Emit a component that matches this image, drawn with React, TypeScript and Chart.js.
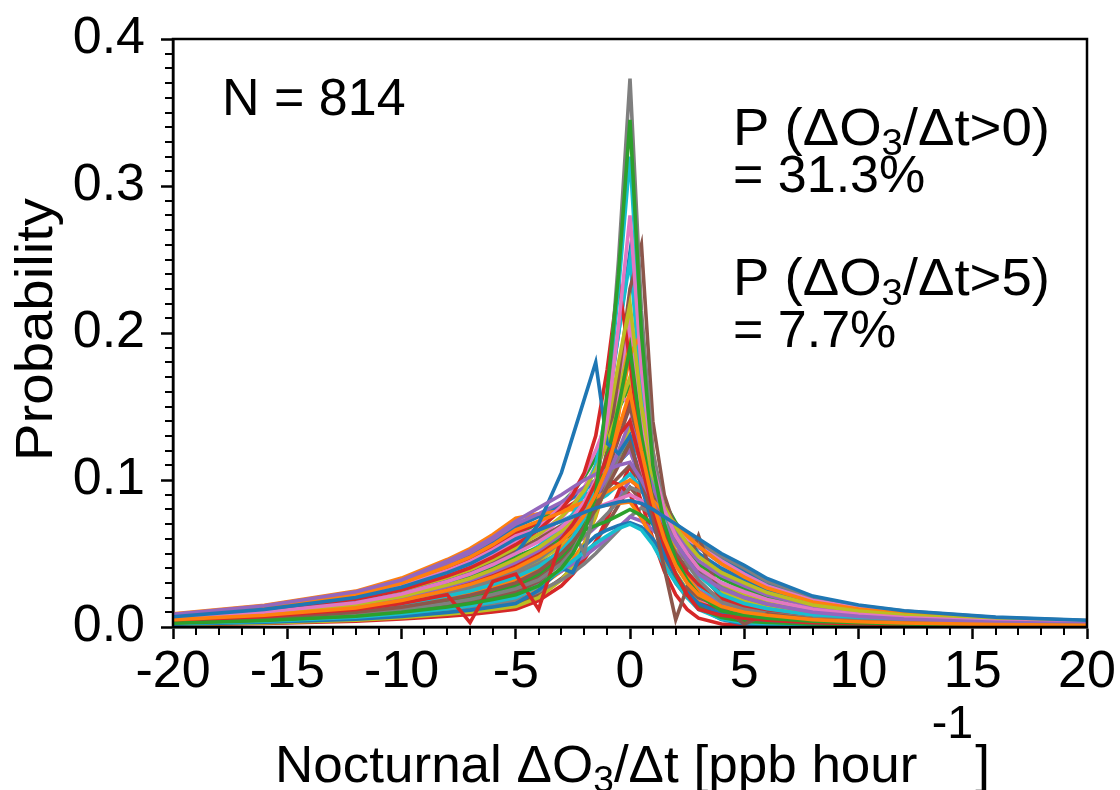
import React, { useEffect, useRef } from 'react';
import { Chart, registerables } from 'chart.js';

Chart.register(...registerables);

// x positions of the probability bins (ppb/hour)
const X_BINS = [-20, -16, -12, -10, -8, -7, -6, -5, -4, -3, -2.5, -2, -1.5, -1, -0.5, 0, 0.5, 1, 1.5, 2, 2.5, 3, 4, 5, 6, 8, 10, 12, 16, 20];

// representative site curves (probability per bin)
const s00 = [0.007, 0.012, 0.020, 0.027, 0.037, 0.043, 0.051, 0.060, 0.066, 0.072, 0.075, 0.078, 0.081, 0.083, 0.085, 0.086, 0.084, 0.080, 0.075, 0.070, 0.065, 0.060, 0.050, 0.042, 0.033, 0.021, 0.015, 0.011, 0.0067, 0.0046];
const s01 = [0.005, 0.008, 0.013, 0.018, 0.025, 0.029, 0.034, 0.040, 0.048, 0.058, 0.066, 0.076, 0.090, 0.108, 0.135, 0.160, 0.120, 0.085, 0.060, 0.042, 0.030, 0.022, 0.014, 0.010, 0.008, 0.005, 0.0036, 0.0027, 0.0016, 0.0011];
const s02 = [0.0026, 0.0044, 0.0073, 0.010, 0.0136, 0.016, 0.0187, 0.022, 0.028, 0.040, 0.050, 0.065, 0.090, 0.160, 0.240, 0.345, 0.200, 0.110, 0.070, 0.046, 0.032, 0.022, 0.011, 0.008, 0.006, 0.004, 0.003, 0.002, 0.0013, 0.0009];
const s03 = [0.0043, 0.0072, 0.012, 0.016, 0.022, 0.003, 0.031, 0.036, 0.012, 0.060, 0.070, 0.082, 0.098, 0.115, 0.130, 0.140, 0.110, 0.080, 0.055, 0.036, 0.022, 0.012, 0.008, 0.006, 0.0047, 0.003, 0.0022, 0.0016, 0.001, 0.0007];
const s04 = [0.0086, 0.0144, 0.024, 0.032, 0.045, 0.052, 0.061, 0.072, 0.081, 0.090, 0.095, 0.100, 0.104, 0.107, 0.110, 0.112, 0.100, 0.085, 0.070, 0.057, 0.046, 0.036, 0.026, 0.020, 0.0156, 0.010, 0.0072, 0.0054, 0.0032, 0.0022];
const s05 = [0.0036, 0.006, 0.010, 0.0135, 0.0186, 0.0216, 0.0255, 0.030, 0.038, 0.050, 0.058, 0.068, 0.080, 0.095, 0.110, 0.125, 0.100, 0.075, 0.040, 0.005, 0.027, 0.020, 0.014, 0.002, 0.009, 0.005, 0.0035, 0.0025, 0.0015, 0.001];
const s06 = [0.006, 0.010, 0.0165, 0.0225, 0.031, 0.036, 0.0425, 0.050, 0.058, 0.068, 0.075, 0.085, 0.100, 0.140, 0.205, 0.280, 0.175, 0.110, 0.080, 0.062, 0.050, 0.040, 0.030, 0.024, 0.0187, 0.012, 0.0086, 0.0065, 0.0038, 0.0026];
const s07 = [0.0031, 0.0052, 0.0086, 0.0117, 0.0161, 0.0187, 0.0221, 0.026, 0.032, 0.043, 0.052, 0.066, 0.090, 0.150, 0.250, 0.373, 0.215, 0.120, 0.080, 0.058, 0.043, 0.032, 0.017, 0.012, 0.0094, 0.006, 0.0043, 0.0032, 0.0019, 0.0013];
const s08 = [0.0055, 0.0092, 0.0152, 0.0207, 0.0285, 0.033, 0.039, 0.046, 0.054, 0.065, 0.073, 0.083, 0.100, 0.135, 0.180, 0.220, 0.150, 0.105, 0.082, 0.068, 0.057, 0.048, 0.037, 0.030, 0.0234, 0.015, 0.0108, 0.0081, 0.0048, 0.0033];
const s09 = [0.0041, 0.0068, 0.0112, 0.0153, 0.0211, 0.0245, 0.0289, 0.034, 0.041, 0.052, 0.061, 0.074, 0.098, 0.150, 0.230, 0.320, 0.190, 0.110, 0.078, 0.058, 0.045, 0.035, 0.022, 0.016, 0.0125, 0.008, 0.0058, 0.0043, 0.0026, 0.0018];
const s10 = [0.006, 0.010, 0.0165, 0.0225, 0.031, 0.036, 0.0425, 0.050, 0.070, 0.105, 0.130, 0.155, 0.180, 0.125, 0.118, 0.130, 0.095, 0.070, 0.050, 0.036, 0.024, 0.016, 0.009, 0.006, 0.0047, 0.003, 0.0022, 0.0016, 0.001, 0.0007];
const s11 = [0.0079, 0.0132, 0.0218, 0.0297, 0.041, 0.0475, 0.056, 0.066, 0.072, 0.078, 0.082, 0.085, 0.088, 0.092, 0.096, 0.100, 0.094, 0.086, 0.078, 0.070, 0.062, 0.055, 0.043, 0.034, 0.0265, 0.017, 0.0122, 0.0092, 0.0054, 0.0037];
const s12 = [0.0034, 0.0056, 0.0092, 0.0126, 0.0174, 0.0202, 0.0238, 0.028, 0.036, 0.048, 0.057, 0.070, 0.088, 0.115, 0.150, 0.190, 0.130, 0.085, 0.055, 0.035, 0.022, 0.013, 0.0065, 0.004, 0.0031, 0.002, 0.0014, 0.0011, 0.0006, 0.0004];
const s13 = [0.0067, 0.0112, 0.0185, 0.0252, 0.0347, 0.0403, 0.0476, 0.056, 0.066, 0.080, 0.090, 0.105, 0.130, 0.175, 0.235, 0.180, 0.120, 0.085, 0.062, 0.047, 0.037, 0.029, 0.019, 0.014, 0.011, 0.007, 0.005, 0.0038, 0.0022, 0.0015];
const s14 = [0.0053, 0.0088, 0.0145, 0.0198, 0.0273, 0.0317, 0.0374, 0.044, 0.052, 0.063, 0.070, 0.078, 0.088, 0.102, 0.120, 0.140, 0.118, 0.095, 0.078, 0.065, 0.054, 0.045, 0.035, 0.028, 0.0218, 0.014, 0.010, 0.0076, 0.0045, 0.0031];
const s15 = [0.0029, 0.0048, 0.0079, 0.0108, 0.0149, 0.0173, 0.0204, 0.024, 0.031, 0.044, 0.054, 0.066, 0.083, 0.105, 0.128, 0.150, 0.120, 0.090, 0.065, 0.050, 0.040, 0.062, 0.018, 0.012, 0.0094, 0.006, 0.0043, 0.0032, 0.0019, 0.0013];
const s16 = [0.0074, 0.0124, 0.0205, 0.0279, 0.0384, 0.0446, 0.0527, 0.062, 0.067, 0.072, 0.075, 0.078, 0.081, 0.084, 0.087, 0.090, 0.086, 0.080, 0.073, 0.066, 0.060, 0.055, 0.045, 0.036, 0.028, 0.018, 0.013, 0.0097, 0.0058, 0.004];
const s17 = [0.0046, 0.0076, 0.0125, 0.0171, 0.0236, 0.0274, 0.0323, 0.038, 0.046, 0.058, 0.066, 0.050, 0.085, 0.100, 0.116, 0.130, 0.112, 0.092, 0.075, 0.062, 0.050, 0.040, 0.027, 0.020, 0.0156, 0.010, 0.0072, 0.0054, 0.0032, 0.0022];
const s18 = [0.0065, 0.0108, 0.0178, 0.0243, 0.0335, 0.0389, 0.0459, 0.054, 0.063, 0.075, 0.083, 0.093, 0.107, 0.125, 0.148, 0.170, 0.130, 0.095, 0.072, 0.056, 0.045, 0.035, 0.024, 0.018, 0.014, 0.009, 0.0065, 0.0049, 0.0029, 0.002];
const s19 = [0.0024, 0.004, 0.0066, 0.009, 0.0124, 0.0144, 0.017, 0.020, 0.028, 0.039, 0.045, 0.051, 0.057, 0.062, 0.067, 0.070, 0.066, 0.056, 0.042, 0.030, 0.020, 0.012, 0.0055, 0.003, 0.0023, 0.0015, 0.0011, 0.0008, 0.0005, 0.0003];
const s20 = [0.0019, 0.0032, 0.0053, 0.0072, 0.0099, 0.0115, 0.0136, 0.016, 0.025, 0.040, 0.037, 0.055, 0.062, 0.066, 0.069, 0.071, 0.068, 0.060, 0.048, 0.034, 0.022, 0.013, 0.005, 0.002, 0.0016, 0.001, 0.0007, 0.0005, 0.0003, 0.0002];
const s21 = [0.0038, 0.0064, 0.0106, 0.0144, 0.0198, 0.023, 0.0272, 0.032, 0.040, 0.053, 0.062, 0.073, 0.088, 0.110, 0.145, 0.185, 0.200, 0.120, 0.075, 0.050, 0.034, 0.024, 0.014, 0.010, 0.0078, 0.005, 0.0036, 0.0027, 0.0016, 0.0011];
const s22 = [0.0058, 0.0096, 0.0158, 0.0216, 0.0298, 0.0346, 0.0408, 0.048, 0.054, 0.060, 0.063, 0.066, 0.069, 0.072, 0.076, 0.080, 0.076, 0.070, 0.063, 0.056, 0.050, 0.043, 0.033, 0.026, 0.0203, 0.013, 0.0094, 0.007, 0.0042, 0.0029];
const s23 = [0.005, 0.0084, 0.0139, 0.0189, 0.026, 0.0302, 0.0357, 0.042, 0.050, 0.062, 0.070, 0.080, 0.095, 0.113, 0.135, 0.155, 0.122, 0.090, 0.060, 0.030, 0.020, 0.016, 0.012, 0.004, 0.006, 0.002, 0.0014, 0.001, 0.0006, 0.0004];
const s24 = [0.0084, 0.014, 0.0231, 0.0315, 0.0434, 0.0504, 0.0595, 0.070, 0.077, 0.085, 0.090, 0.095, 0.100, 0.106, 0.113, 0.120, 0.098, 0.076, 0.058, 0.045, 0.034, 0.025, 0.015, 0.010, 0.0078, 0.005, 0.0036, 0.0027, 0.0016, 0.0011];
const s25 = [0.0032, 0.0054, 0.0089, 0.0122, 0.0167, 0.0194, 0.023, 0.027, 0.034, 0.046, 0.055, 0.068, 0.088, 0.120, 0.170, 0.230, 0.260, 0.140, 0.090, 0.066, 0.050, 0.038, 0.020, 0.014, 0.011, 0.007, 0.005, 0.0038, 0.0022, 0.0015];
const s26 = [0.007, 0.0116, 0.0191, 0.0261, 0.036, 0.0418, 0.0493, 0.058, 0.068, 0.082, 0.092, 0.104, 0.120, 0.140, 0.170, 0.205, 0.140, 0.090, 0.060, 0.042, 0.030, 0.020, 0.011, 0.008, 0.0062, 0.004, 0.0029, 0.0022, 0.0013, 0.0009];
const s27 = [0.0043, 0.0072, 0.0119, 0.0162, 0.0223, 0.0259, 0.0306, 0.036, 0.043, 0.051, 0.056, 0.062, 0.069, 0.077, 0.086, 0.095, 0.092, 0.085, 0.077, 0.070, 0.064, 0.058, 0.048, 0.040, 0.031, 0.020, 0.0144, 0.0108, 0.0064, 0.0044];
const s28 = [0.0046, 0.0076, 0.0125, 0.0171, 0.0236, 0.0274, 0.0323, 0.038, 0.045, 0.055, 0.062, 0.070, 0.080, 0.095, 0.115, 0.135, 0.150, 0.112, 0.085, 0.066, 0.053, 0.042, 0.029, 0.022, 0.0172, 0.011, 0.0079, 0.0059, 0.0035, 0.0024];
const s29 = [0.0055, 0.0092, 0.0152, 0.0207, 0.0285, 0.0331, 0.0391, 0.046, 0.055, 0.068, 0.077, 0.090, 0.110, 0.150, 0.200, 0.250, 0.160, 0.100, 0.070, 0.050, 0.038, 0.028, 0.017, 0.012, 0.0094, 0.006, 0.0043, 0.0032, 0.0019, 0.0013];
const s30 = [0.0048, 0.008, 0.0132, 0.018, 0.0248, 0.0288, 0.034, 0.040, 0.048, 0.060, 0.068, 0.080, 0.100, 0.145, 0.200, 0.255, 0.170, 0.115, 0.086, 0.068, 0.058, 0.050, 0.040, 0.032, 0.025, 0.016, 0.0115, 0.0086, 0.0051, 0.0035];
const s31 = [0.0089, 0.0148, 0.0244, 0.0333, 0.0459, 0.0533, 0.0629, 0.074, 0.077, 0.079, 0.080, 0.081, 0.082, 0.083, 0.084, 0.085, 0.074, 0.060, 0.046, 0.034, 0.025, 0.018, 0.0095, 0.006, 0.0047, 0.003, 0.0022, 0.0016, 0.001, 0.0007];
const s32 = [0.0036, 0.006, 0.0099, 0.0135, 0.0186, 0.0216, 0.0255, 0.030, 0.038, 0.050, 0.058, 0.068, 0.080, 0.095, 0.112, 0.130, 0.118, 0.100, 0.085, 0.071, 0.060, 0.050, 0.034, 0.026, 0.0203, 0.013, 0.0094, 0.007, 0.0042, 0.0029];
const s33 = [0.0077, 0.0128, 0.0211, 0.0288, 0.0397, 0.0461, 0.0544, 0.064, 0.071, 0.079, 0.084, 0.089, 0.094, 0.100, 0.097, 0.090, 0.075, 0.058, 0.043, 0.031, 0.022, 0.015, 0.008, 0.005, 0.0039, 0.0025, 0.0018, 0.0014, 0.0008, 0.0006];
const s34 = [0.0029, 0.0048, 0.0079, 0.0108, 0.0149, 0.0173, 0.0204, 0.024, 0.030, 0.038, 0.043, 0.048, 0.054, 0.060, 0.068, 0.075, 0.072, 0.066, 0.059, 0.052, 0.045, 0.038, 0.027, 0.020, 0.0156, 0.010, 0.0072, 0.0054, 0.0032, 0.0022];
const s35 = [0.0062, 0.0104, 0.0172, 0.0234, 0.0322, 0.0374, 0.0442, 0.052, 0.060, 0.069, 0.074, 0.080, 0.087, 0.094, 0.102, 0.110, 0.098, 0.084, 0.070, 0.057, 0.046, 0.036, 0.022, 0.016, 0.0125, 0.008, 0.0058, 0.0043, 0.0026, 0.0018];
const s36 = [0.006, 0.010, 0.0165, 0.0225, 0.031, 0.036, 0.0425, 0.050, 0.060, 0.074, 0.083, 0.095, 0.110, 0.135, 0.160, 0.150, 0.105, 0.072, 0.050, 0.035, 0.024, 0.016, 0.008, 0.005, 0.0039, 0.0025, 0.0018, 0.0014, 0.0008, 0.0006];
const s37 = [0.0022, 0.0036, 0.0059, 0.0081, 0.0112, 0.013, 0.0153, 0.018, 0.024, 0.032, 0.037, 0.043, 0.050, 0.058, 0.066, 0.075, 0.081, 0.077, 0.072, 0.066, 0.059, 0.050, 0.038, 0.030, 0.0234, 0.015, 0.0108, 0.0081, 0.0048, 0.0033];
const s38 = [0.0017, 0.0028, 0.0046, 0.0063, 0.0087, 0.0101, 0.0119, 0.014, 0.020, 0.032, 0.042, 0.056, 0.076, 0.110, 0.160, 0.215, 0.140, 0.085, 0.055, 0.037, 0.025, 0.017, 0.009, 0.006, 0.0047, 0.003, 0.0022, 0.0016, 0.001, 0.0007];
const s39 = [0.0072, 0.012, 0.0198, 0.027, 0.0372, 0.0432, 0.051, 0.060, 0.066, 0.072, 0.076, 0.080, 0.085, 0.090, 0.097, 0.104, 0.094, 0.082, 0.070, 0.059, 0.049, 0.040, 0.030, 0.024, 0.0187, 0.012, 0.0086, 0.0065, 0.0038, 0.0026];
const s40 = [0.0082, 0.0136, 0.0224, 0.0306, 0.0422, 0.049, 0.0578, 0.068, 0.075, 0.083, 0.088, 0.093, 0.099, 0.105, 0.112, 0.120, 0.106, 0.092, 0.080, 0.070, 0.062, 0.056, 0.046, 0.038, 0.0296, 0.019, 0.0137, 0.0103, 0.0061, 0.0042];
const s41 = [0.0024, 0.004, 0.0066, 0.009, 0.0124, 0.0144, 0.017, 0.020, 0.027, 0.038, 0.046, 0.057, 0.075, 0.100, 0.145, 0.200, 0.160, 0.110, 0.080, 0.060, 0.047, 0.037, 0.024, 0.018, 0.014, 0.009, 0.0065, 0.0049, 0.0029, 0.002];
const s42 = [0.0074, 0.0124, 0.0205, 0.0279, 0.0384, 0.0446, 0.0527, 0.062, 0.071, 0.084, 0.092, 0.102, 0.115, 0.130, 0.148, 0.165, 0.128, 0.096, 0.074, 0.058, 0.046, 0.036, 0.026, 0.020, 0.0156, 0.010, 0.0072, 0.0054, 0.0032, 0.0022];
const s43 = [0.0014, 0.0024, 0.004, 0.0054, 0.0074, 0.0086, 0.0102, 0.012, 0.018, 0.028, 0.036, 0.046, 0.058, 0.074, 0.092, 0.110, 0.085, 0.060, 0.038, 0.022, 0.012, 0.006, 0.002, 0.001, 0.0008, 0.0005, 0.0004, 0.0003, 0.0002, 0.0001];
const s44 = [0.0041, 0.0068, 0.0112, 0.0153, 0.0211, 0.0245, 0.0289, 0.034, 0.041, 0.050, 0.055, 0.061, 0.068, 0.076, 0.088, 0.100, 0.094, 0.086, 0.078, 0.070, 0.062, 0.054, 0.043, 0.034, 0.0265, 0.017, 0.0122, 0.0092, 0.0054, 0.0037];
const s45 = [0.0019, 0.0032, 0.0053, 0.0072, 0.0099, 0.0115, 0.0136, 0.016, 0.022, 0.033, 0.040, 0.048, 0.058, 0.070, 0.083, 0.095, 0.086, 0.072, 0.056, 0.042, 0.031, 0.022, 0.012, 0.008, 0.0062, 0.004, 0.0029, 0.0022, 0.0013, 0.0009];

const SERIES = [s00, s01, s02, s03, s04, s05, s06, s07, s08, s09, s10, s11, s12, s13, s14, s15, s16, s17, s18, s19, s20, s21, s22, s23, s24, s25, s26, s27, s28, s29, s30, s31, s32, s33, s34, s35, s36, s37, s38, s39, s40, s41, s42, s43, s44, s45];

const TAB10 = ['#1f77b4', '#ff7f0e', '#2ca02c', '#d62728', '#9467bd', '#8c564b', '#e377c2', '#7f7f7f', '#bcbd22', '#17becf'];

const X_TICKS = [-20, -15, -10, -5, 0, 5, 10, 15, 20];
const Y_TICKS = [0, 0.1, 0.2, 0.3, 0.4];

const N_TEXT = 'N = 814';
const P0_VALUE = '= 31.3%';
const P5_VALUE = '= 7.7%';

const FONT = "'Liberation Sans', Arial, Helvetica, sans-serif";
const FS = 52;

type Seg = { t: string; k?: 'sub' | 'sup'; pre?: number };

function segSize(s: Seg, size: number) {
  if (s.k === 'sub') return size * 0.7;
  if (s.k === 'sup') return size * 0.88;
  return size;
}

function segWidth(ctx: CanvasRenderingContext2D, segs: Seg[], size: number) {
  let w = 0;
  for (const s of segs) {
    ctx.font = `${segSize(s, size)}px ${FONT}`;
    w += (s.pre || 0) + ctx.measureText(s.t).width;
  }
  return w;
}

// draws text runs with sub/superscripts; if target is given, the run is fitted to that width
function drawRich(ctx: CanvasRenderingContext2D, segs: Seg[], x: number, y: number, size: number, target?: number) {
  const w = segWidth(ctx, segs, size);
  const k = target ? target / w : 1;
  ctx.save();
  ctx.translate(x, y);
  ctx.scale(k, 1);
  ctx.textAlign = 'left';
  ctx.textBaseline = 'alphabetic';
  let cx = 0;
  for (const s of segs) {
    const fs = segSize(s, size);
    let dy = 0;
    if (s.k === 'sub') dy = size * 0.2;
    if (s.k === 'sup') dy = -size * 0.85;
    cx += s.pre || 0;
    ctx.font = `${fs}px ${FONT}`;
    ctx.fillText(s.t, cx, dy);
    cx += ctx.measureText(s.t).width;
  }
  ctx.restore();
}

const decorations = {
  id: 'decorations',
  afterDatasetsDraw(chart: any) {
    const ctx: CanvasRenderingContext2D = chart.ctx;
    const { left, right, top, bottom } = chart.chartArea;
    const xs = chart.scales.x;
    const ys = chart.scales.y;
    ctx.save();
    ctx.strokeStyle = '#000';
    ctx.fillStyle = '#000';
    // minor ticks
    ctx.lineWidth = 2;
    ctx.beginPath();
    for (let v = -20; v <= 20; v += 1) {
      if (v % 5 === 0) continue;
      const px = Math.round(xs.getPixelForValue(v));
      ctx.moveTo(px, bottom);
      ctx.lineTo(px, bottom + 8);
    }
    for (let k = 0; k <= 40; k++) {
      if (k % 10 === 0) continue;
      const py = Math.round(ys.getPixelForValue(k / 100));
      ctx.moveTo(left, py);
      ctx.lineTo(left - 8, py);
    }
    ctx.stroke();
    // frame
    ctx.lineWidth = 2.5;
    ctx.strokeRect(left, top, right - left, bottom - top);

    // annotations
    drawRich(ctx, [{ t: N_TEXT }], 222, 115, FS);
    drawRich(ctx, [{ t: 'P (ΔO' }, { t: '3', k: 'sub' }, { t: '/Δt>0)' }], 733, 145, FS, 317);
    drawRich(ctx, [{ t: P0_VALUE }], 733, 192, FS);
    drawRich(ctx, [{ t: 'P (ΔO' }, { t: '3', k: 'sub' }, { t: '/Δt>5)' }], 733, 295, FS, 317);
    drawRich(ctx, [{ t: P5_VALUE }], 733, 347, FS);

    // x axis title
    const xt: Seg[] = [
      { t: 'Nocturnal ΔO' },
      { t: '3', k: 'sub' },
      { t: '/Δt [ppb hour' },
      { t: '-1', k: 'sup', pre: 14 },
      { t: ']', pre: 2 },
    ];
    drawRich(ctx, xt, 275, 782, FS, 715);

    // y axis title
    ctx.save();
    ctx.translate(52, 461);
    ctx.rotate(-Math.PI / 2);
    ctx.font = `${FS}px ${FONT}`;
    const pw = ctx.measureText('Probability').width;
    ctx.scale(263 / pw, 1);
    ctx.textAlign = 'left';
    ctx.textBaseline = 'alphabetic';
    ctx.fillText('Probability', 0, 0);
    ctx.restore();
    ctx.restore();
  },
};

export default function App() {
  const ref = useRef<HTMLCanvasElement>(null);
  useEffect(() => {
    const canvas = ref.current;
    if (!canvas) return;
    const datasets = SERIES.map((ys, i) => ({
      data: X_BINS.map((x, j) => ({ x, y: ys[j] })),
      borderColor: TAB10[i % 10],
      backgroundColor: TAB10[i % 10],
      borderWidth: 3.6,
      pointRadius: 0,
      tension: 0,
      fill: false,
    }));
    const chart = new Chart(canvas, {
      type: 'line',
      data: { datasets },
      options: {
        animation: false,
        responsive: false,
        devicePixelRatio: 1,
        layout: { padding: { left: 0, top: 39, right: 33, bottom: 0 } },
        plugins: { legend: { display: false }, tooltip: { enabled: false } },
        scales: {
          x: {
            type: 'linear',
            min: -20,
            max: 20,
            afterBuildTicks: (s: any) => { s.ticks = X_TICKS.map((v) => ({ value: v })); },
            afterFit: (s: any) => { s.height = 163; s.paddingLeft = 0; s.paddingRight = 0; },
            ticks: {
              autoSkip: false,
              maxRotation: 0,
              minRotation: 0,
              padding: 2,
              color: '#000',
              font: { family: FONT, size: FS },
              callback: (v: any) => String(v),
            },
            grid: { drawOnChartArea: false, drawTicks: true, tickLength: 12, tickWidth: 2.5, tickColor: '#000' },
            border: { display: true, color: '#000', width: 2.5 },
          },
          y: {
            type: 'linear',
            min: 0,
            max: 0.4,
            afterBuildTicks: (s: any) => { s.ticks = Y_TICKS.map((v) => ({ value: v })); },
            afterFit: (s: any) => { s.width = 173; s.paddingTop = 0; s.paddingBottom = 0; },
            ticks: {
              autoSkip: false,
              padding: 16,
              color: '#000',
              font: { family: FONT, size: FS },
              callback: (v: any) => Number(v).toFixed(1),
            },
            grid: { drawOnChartArea: false, drawTicks: true, tickLength: 12, tickWidth: 2.5, tickColor: '#000' },
            border: { display: true, color: '#000', width: 2.5 },
          },
        },
      },
      plugins: [decorations],
    } as any);
    return () => chart.destroy();
  }, []);
  return (
    <div style={{ position: 'fixed', left: 0, top: 0, width: 1120, height: 790, background: '#fff' }}>
      <canvas ref={ref} width={1120} height={790} style={{ display: 'block' }} />
    </div>
  );
}
